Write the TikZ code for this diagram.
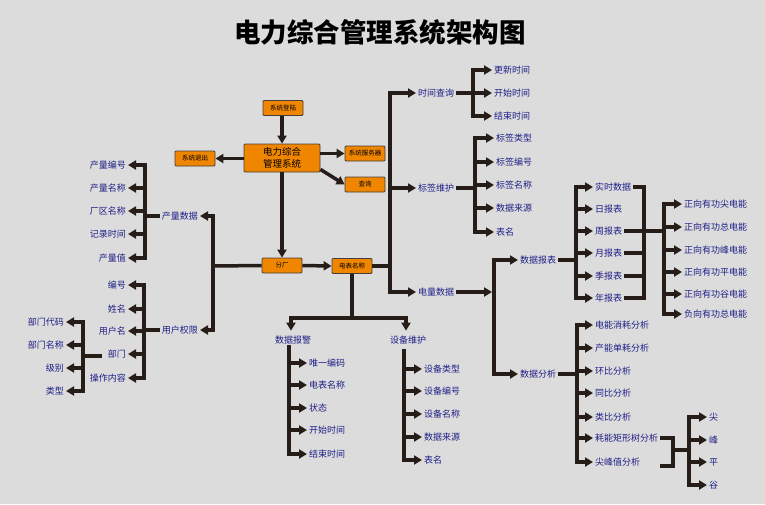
\documentclass[tikz,border=0pt]{standalone}
\usepackage{fontspec}
\newfontfamily\cjk{Noto Sans CJK SC}
\usetikzlibrary{arrows.meta}
\definecolor{bgc}{RGB}{220,220,220}
\definecolor{lnc}{RGB}{38,28,24}
\definecolor{txc}{RGB}{30,30,135}
\definecolor{orc}{RGB}{240,134,0}
\begin{document}
\begin{tikzpicture}[x=1pt,y=-1pt,
 lbl/.style={text=txc,font=\cjk\fontsize{9}{10}\selectfont,inner sep=2pt},
 box/.style={fill=orc,draw=lnc!85,line width=0.8pt,font=\cjk\fontsize{6.5}{7}\selectfont,minimum width=40pt,minimum height=15pt,inner sep=0pt,rounded corners=1pt},
 ln/.style={draw=lnc,line width=3.5pt},
 arr/.style={ln,-{Triangle[length=8pt,width=9pt]}},
 ]
\fill[bgc] (0,0) rectangle (765,504);
\useasboundingbox (0,0) rectangle (765,504);
\node[font=\cjk\bfseries\fontsize{26.5}{30}\selectfont,text=black] (title) at (380,32) {电力综合管理系统架构图};

% orange boxes
\node[box] (login) at (283,108) {系统登陆};
\node[box,minimum width=76pt,minimum height=28pt,font=\cjk\fontsize{9.5}{12.5}\selectfont,align=center] (main) at (282,158) {电力综合\\管理系统};
\node[box] (exit) at (195,158.5) {系统退出};
\node[box] (server) at (365,153.5) {系统服务器};
\node[box] (query) at (365,184.5) {查询};
\node[box] (fc) at (282,265.5) {分厂};
\node[box] (meter) at (352,266) {电表名称};

\draw[arr] (login.south -| main.north) -- (main.north);
\draw[arr] (main.west |- exit.east) -- (exit.east);
\draw[arr] (main.east |- server.west) -- (server.west);
\draw[arr] ([yshift=3pt]main.south east) -- (query.west);
\draw[arr] (main.south) -- (fc.north);
\draw[arr] (fc.east) -- (meter.west);

% left side
\coordinate (L) at (213,266);
\draw[ln] (fc.west) -- (L);
\node[lbl,anchor=east] (cl) at (200,216) {产量数据};
\node[lbl,anchor=east] (yh) at (200,330) {用户权限};
\draw[arr] (L) |- (cl.east);
\draw[arr] (L) |- (yh.east);

\coordinate (A) at (145,216);
\draw[ln] (cl.west) -- (A);
\node[lbl,anchor=east] (c1) at (128,165) {产量编号};
\node[lbl,anchor=east] (c2) at (128,188) {产量名称};
\node[lbl,anchor=east] (c3) at (128,211) {厂区名称};
\node[lbl,anchor=east] (c4) at (128,234) {记录时间};
\node[lbl,anchor=east] (c5) at (128,258) {产量值};
\foreach \n in {c1,c2,c3,c4,c5} \draw[arr] (A) |- (\n.east);

\coordinate (B) at (144,330);
\draw[ln] (yh.west) -- (B);
\node[lbl,anchor=east] (u1) at (128,285) {编号};
\node[lbl,anchor=east] (u2) at (128,309) {姓名};
\node[lbl,anchor=east] (u3) at (128,331) {用户名};
\node[lbl,anchor=east] (u4) at (128,354) {部门};
\node[lbl,anchor=east] (u5) at (128,378) {操作内容};
\foreach \n in {u1,u2,u3,u4,u5} \draw[arr] (B) |- (\n.east);

\coordinate (C) at (83,356);
\draw[ln] ([xshift=-4pt]u4.west |- C) -- (C);
\node[lbl,anchor=east] (d1) at (66,322) {部门代码};
\node[lbl,anchor=east] (d2) at (66,345) {部门名称};
\node[lbl,anchor=east] (d3) at (66,368) {级别};
\node[lbl,anchor=east] (d4) at (66,391) {类型};
\foreach \n in {d1,d2,d3,d4} \draw[arr] (C) |- (\n.east);

% bottom middle
\coordinate (M) at (352,318);
\draw[ln] (meter.south) -- (M);
\node[lbl] (bj) at (293,340) {数据报警};
\node[lbl] (wh) at (408,340) {设备维护};
\draw[arr,shorten >=3pt] (M) -| (bj.north -| 291,0);
\draw[arr,shorten >=3pt] (M) -| (wh.north -| 406,0);

\coordinate (N) at (289,345);
\node[lbl,anchor=west] (b1) at (307,363) {唯一编码};
\node[lbl,anchor=west] (b2) at (307,385) {电表名称};
\node[lbl,anchor=west] (b3) at (307,408) {状态};
\node[lbl,anchor=west] (b4) at (307,430) {开始时间};
\node[lbl,anchor=west] (b5) at (307,454) {结束时间};
\foreach \n in {b1,b2,b3,b4,b5} \draw[arr] (N) |- (\n.west);

\coordinate (O) at (404,349);
\node[lbl,anchor=west] (w1) at (422,369) {设备类型};
\node[lbl,anchor=west] (w2) at (422,391) {设备编号};
\node[lbl,anchor=west] (w3) at (422,414) {设备名称};
\node[lbl,anchor=west] (w4) at (422,437) {数据来源};
\node[lbl,anchor=west] (w5) at (422,460) {表名};
\foreach \n in {w1,w2,w3,w4,w5} \draw[arr] (O) |- (\n.west);

% right trunk
\coordinate (R) at (390,266);
\draw[ln] (meter.east) -- (R);
\node[lbl,anchor=west] (sj) at (416,93) {时间查询};
\node[lbl,anchor=west] (bq) at (416,188) {标签维护};
\node[lbl,anchor=west] (dl) at (416,292) {电量数据};
\foreach \n in {sj,bq,dl} \draw[arr] (R) |- (\n.west);

\coordinate (D) at (473,93);
\draw[ln] (sj.east) -- (D);
\node[lbl,anchor=west] (s1) at (492,70) {更新时间};
\node[lbl,anchor=west] (s2) at (492,93) {开始时间};
\node[lbl,anchor=west] (s3) at (492,116) {结束时间};
\foreach \n in {s1,s2,s3} \draw[arr] (D) |- (\n.west);

\coordinate (E) at (475,188);
\draw[ln] (bq.east) -- (E);
\node[lbl,anchor=west] (t1) at (494,138) {标签类型};
\node[lbl,anchor=west] (t2) at (494,162) {标签编号};
\node[lbl,anchor=west] (t3) at (494,185) {标签名称};
\node[lbl,anchor=west] (t4) at (494,208) {数据来源};
\node[lbl,anchor=west] (t5) at (494,232) {表名};
\foreach \n in {t1,t2,t3,t4,t5} \draw[arr] (E) |- (\n.west);

\coordinate (F) at (494,292);
\draw[arr] (dl.east) -- ([xshift=-2pt]F);
\node[lbl,anchor=west] (bb) at (518,260) {数据报表};
\node[lbl,anchor=west] (fx) at (518,374) {数据分析};
\draw[arr] (F) |- (bb.west);
\draw[arr] (F) |- (fx.west);

\coordinate (G) at (576,260);
\draw[ln] (bb.east) -- (G);
\node[lbl,anchor=west] (r1) at (593,187) {实时数据};
\node[lbl,anchor=west] (r2) at (593,209) {日报表};
\node[lbl,anchor=west] (r3) at (593,231) {周报表};
\node[lbl,anchor=west] (r4) at (593,253) {月报表};
\node[lbl,anchor=west] (r5) at (593,276) {季报表};
\node[lbl,anchor=west] (r6) at (593,298) {年报表};
\foreach \n in {r1,r2,r3,r4,r5,r6} \draw[arr] (G) |- (\n.west);

\coordinate (H) at (644,231);
\coordinate (I) at (664,231);
\draw[ln] (r1.east) -| (H);
\draw[ln] (r6.east) -| (H);
\draw[ln] (r3.east) -- (I);
\draw[ln] (r4.east) -- (r4.east -| H);
\draw[ln] (r5.east) -- (r5.east -| H);

\node[lbl,anchor=west] (e1) at (682,204) {正向有功尖电能};
\node[lbl,anchor=west] (e2) at (682,227) {正向有功总电能};
\node[lbl,anchor=west] (e3) at (682,250) {正向有功峰电能};
\node[lbl,anchor=west] (e4) at (682,272) {正向有功平电能};
\node[lbl,anchor=west] (e5) at (682,294) {正向有功谷电能};
\node[lbl,anchor=west] (e6) at (682,314) {负向有功总电能};
\foreach \n in {e1,e2,e3,e4,e5,e6} \draw[arr] (I) |- (\n.west);

\coordinate (J) at (577,374);
\draw[ln] (fx.east) -- (J);
\node[lbl,anchor=west] (a1) at (593,325) {电能消耗分析};
\node[lbl,anchor=west] (a2) at (593,348) {产能单耗分析};
\node[lbl,anchor=west] (a3) at (593,371) {环比分析};
\node[lbl,anchor=west] (a4) at (593,393) {同比分析};
\node[lbl,anchor=west] (a5) at (593,417) {类比分析};
\node[lbl,anchor=west] (a6) at (593,438) {耗能矩形树分析};
\node[lbl,anchor=west] (a7) at (593,462) {尖峰值分析};
\foreach \n in {a1,a2,a3,a4,a5,a6,a7} \draw[arr] (J) |- (\n.west);

\coordinate (K) at (673,450);
\coordinate (P) at (689,450);
\draw[ln] (a6.east) -| (K);
\draw[ln] ([yshift=-4pt]a7.east -| a6.east) -| (K);
\draw[ln] (K) -- (P);
\node[lbl,anchor=west] (p1) at (707,417) {尖};
\node[lbl,anchor=west] (p2) at (707,440) {峰};
\node[lbl,anchor=west] (p3) at (707,462) {平};
\node[lbl,anchor=west] (p4) at (707,485) {谷};
\foreach \n in {p1,p2,p3,p4} \draw[arr] (P) |- (\n.west);
\end{tikzpicture}
\end{document}
